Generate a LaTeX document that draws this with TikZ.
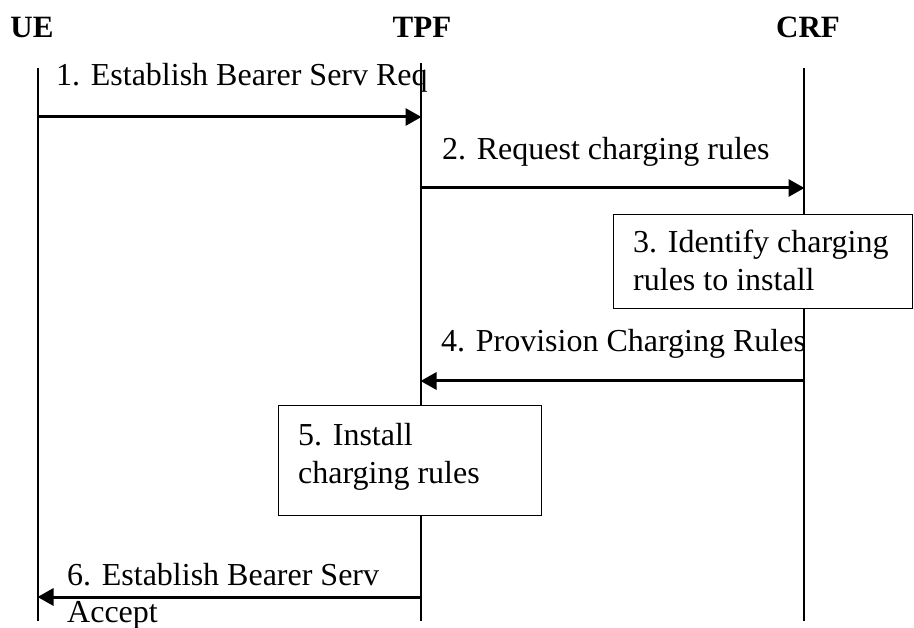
\documentclass[tikz,border=0pt]{standalone}
\usepackage{fontspec}
\setmainfont{Liberation Serif}
\usetikzlibrary{arrows.meta}
\begin{document}
\begin{tikzpicture}[x=1pt,y=-1pt,
  title/.style={font=\fontsize{31}{36}\selectfont\bfseries, anchor=base, inner sep=0},
  lbl/.style={font=\fontsize{32}{38}\selectfont, anchor=base west, inner sep=0, align=left},
  life/.style={line width=1.3pt},
  msg/.style={line width=3pt, -{Triangle[length=16pt,width=17pt]}, shorten >=-0.5pt},
  stepbox/.style={draw, line width=1.3pt, fill=white, anchor=north west, inner sep=0}]
\useasboundingbox (0,0) rectangle (914,628);
% titles
\node[title] (ue)  at (32,38)  {UE};
\node[title] (tpf) at (422,38) {TPF};
\node[title] (crf) at (808,38) {CRF};
% lifelines
\coordinate (ueT) at (38,68);  \coordinate (ueB) at (38,621);
\coordinate (tpfT) at (421,63); \coordinate (tpfB) at (421,621);
\coordinate (crfT) at (804,68); \coordinate (crfB) at (804,621);
\draw[life] (ueT) -- (ueB);
\draw[life] (tpfT) -- (tpfB);
\draw[life] (crfT) -- (crfB);
% message 1
\node[lbl] (t1) at (56,86) {1. Establish Bearer Serv Req};
\coordinate (m1a) at (38,117); \coordinate (m1b) at (421,117);
\draw[msg] (m1a) -- (m1b);
% message 2
\node[lbl] (t2) at (442,160) {2. Request charging rules};
\coordinate (m2a) at (421,188); \coordinate (m2b) at (804,188);
\draw[msg] (m2a) -- (m2b);
% box 3
\node[stepbox, minimum width=299pt, minimum height=94pt] (b3) at (613,214) {};
\node[lbl] (t3) at (633,291) {3. Identify charging\\rules to install};
% message 4
\node[lbl] (t4) at (441,352) {4. Provision Charging Rules};
\coordinate (m4a) at (804,381); \coordinate (m4b) at (421,381);
\draw[msg] (m4a) -- (m4b);
% box 5
\node[stepbox, minimum width=263pt, minimum height=110pt] (b5) at (278,405) {};
\node[lbl] (t5) at (298,483) {5. Install\\charging rules};
% message 6
\node[lbl] (t6) at (67,585) {6. Establish Bearer Serv};
\node[lbl] (t6b) at (67,622) {Accept};
\coordinate (m6a) at (421,597); \coordinate (m6b) at (38,597);
\draw[msg] (m6a) -- (m6b);
\end{tikzpicture}
\end{document}
